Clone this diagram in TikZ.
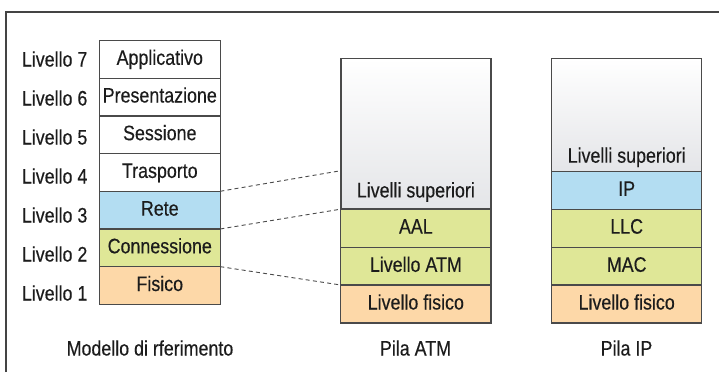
\documentclass[tikz,border=0pt]{standalone}
\usepackage{fontspec}
\setmainfont{Liberation Sans}[FakeStretch=0.85, FakeBold=0.35]
\usetikzlibrary{positioning}

\definecolor{frameline}{HTML}{444444}
\definecolor{boxline}{HTML}{4A4A4A}
\definecolor{txt}{HTML}{1C1C1C}
\definecolor{bluelayer}{HTML}{B3DDF2}
\definecolor{greenlayer}{HTML}{DFE797}
\definecolor{orangelayer}{HTML}{FDD8A8}
\definecolor{graylayer}{HTML}{E4E5E8}

\tikzset{
  layer/.style={draw=boxline, line width=0.65pt, inner sep=0pt, outer sep=0pt,
    text=txt, font=\fontsize{10.5}{12}\selectfont, text height=7.5pt, text depth=2pt},
  osi/.style={layer, minimum width=60.5pt, minimum height=18.85pt},
  pila/.style={layer, minimum width=75pt, minimum height=19pt},
  upper/.style={layer, top color=white, bottom color=graylayer},
  levlabel/.style={anchor=west, inner sep=0pt, text=txt, font=\fontsize{10.5}{12}\selectfont},
  caption/.style={text=txt, font=\fontsize{10.5}{12}\selectfont},
  link/.style={draw=boxline, line width=0.45pt, dash pattern=on 2pt off 1.6pt}
}

\begin{document}
\begin{tikzpicture}[x=0.5pt, y=-0.5pt]
\useasboundingbox (0,0) rectangle (719,372);
\draw[frameline, line width=0.75pt] (6,372) -- (6,12) -- (719,12);

% modello di riferimento
\node[osi] (applicativo) at (159.8,59.3) {Applicativo};
\node[osi] (presentazione) at (159.8,97.0) {Presentazione};
\node[osi] (sessione) at (159.8,134.7) {Sessione};
\node[osi] (trasporto) at (159.8,172.4) {Trasporto};
\node[osi, fill=bluelayer] (rete) at (159.8,210.1) {Rete};
\node[osi, fill=greenlayer] (connessione) at (159.8,247.8) {Connessione};
\node[osi, fill=orangelayer] (fisico) at (159.8,285.5) {Fisico};

\node[levlabel] (l7) at (21.5,59) {Livello 7};
\node[levlabel] (l6) at (21.5,98) {Livello 6};
\node[levlabel] (l5) at (21.5,137) {Livello 5};
\node[levlabel] (l4) at (21.5,176) {Livello 4};
\node[levlabel] (l3) at (21.5,215) {Livello 3};
\node[levlabel] (l2) at (21.5,254) {Livello 2};
\node[levlabel] (l1) at (21.5,293) {Livello 1};

% pila ATM
\node[pila, upper, minimum height=75.35pt,
  label={[anchor=base, yshift=5.8pt, text=txt, font=\fontsize{10.5}{12}\selectfont]south:Livelli superiori}]
  (atmsup) at (415.85,133.65) {};
\node[pila, fill=greenlayer, minimum width=75.15pt] (aal) at (415.85,228.15) {AAL};
\node[pila, fill=greenlayer, minimum width=75.15pt] (atm) at (415.85,266.3) {Livello ATM};
\node[pila, fill=orangelayer, minimum width=75.15pt] (atmfis) at (415.85,304.0) {Livello fisico};

% pila IP
\node[pila, upper, minimum height=56.7pt,
  label={[anchor=base, yshift=4.5pt, text=txt, font=\fontsize{10.5}{12}\selectfont]south:Livelli superiori}]
  (ipsup) at (626.7,115.0) {};
\node[pila, fill=bluelayer] (ip) at (626.7,190.35) {IP};
\node[pila, fill=greenlayer] (llc) at (626.7,228.15) {LLC};
\node[pila, fill=greenlayer] (mac) at (626.7,266.3) {MAC};
\node[pila, fill=orangelayer] (ipfis) at (626.7,304.0) {Livello fisico};

\node[caption] (modello) at (150,348) {Modello di rferimento};
\node[caption] (pilaatm) at (415.5,348) {Pila ATM};
\node[caption] (pilaip) at (626.5,348) {Pila IP};

% corrispondenze
\coordinate (atmtop) at (340.7,170.7);
\path[link] (trasporto.south east) -- (atmtop);
\path[link] (rete.south east) -- (aal.north west);
\path[link] (connessione.south east) -- (atmfis.north west);
\end{tikzpicture}
\end{document}
